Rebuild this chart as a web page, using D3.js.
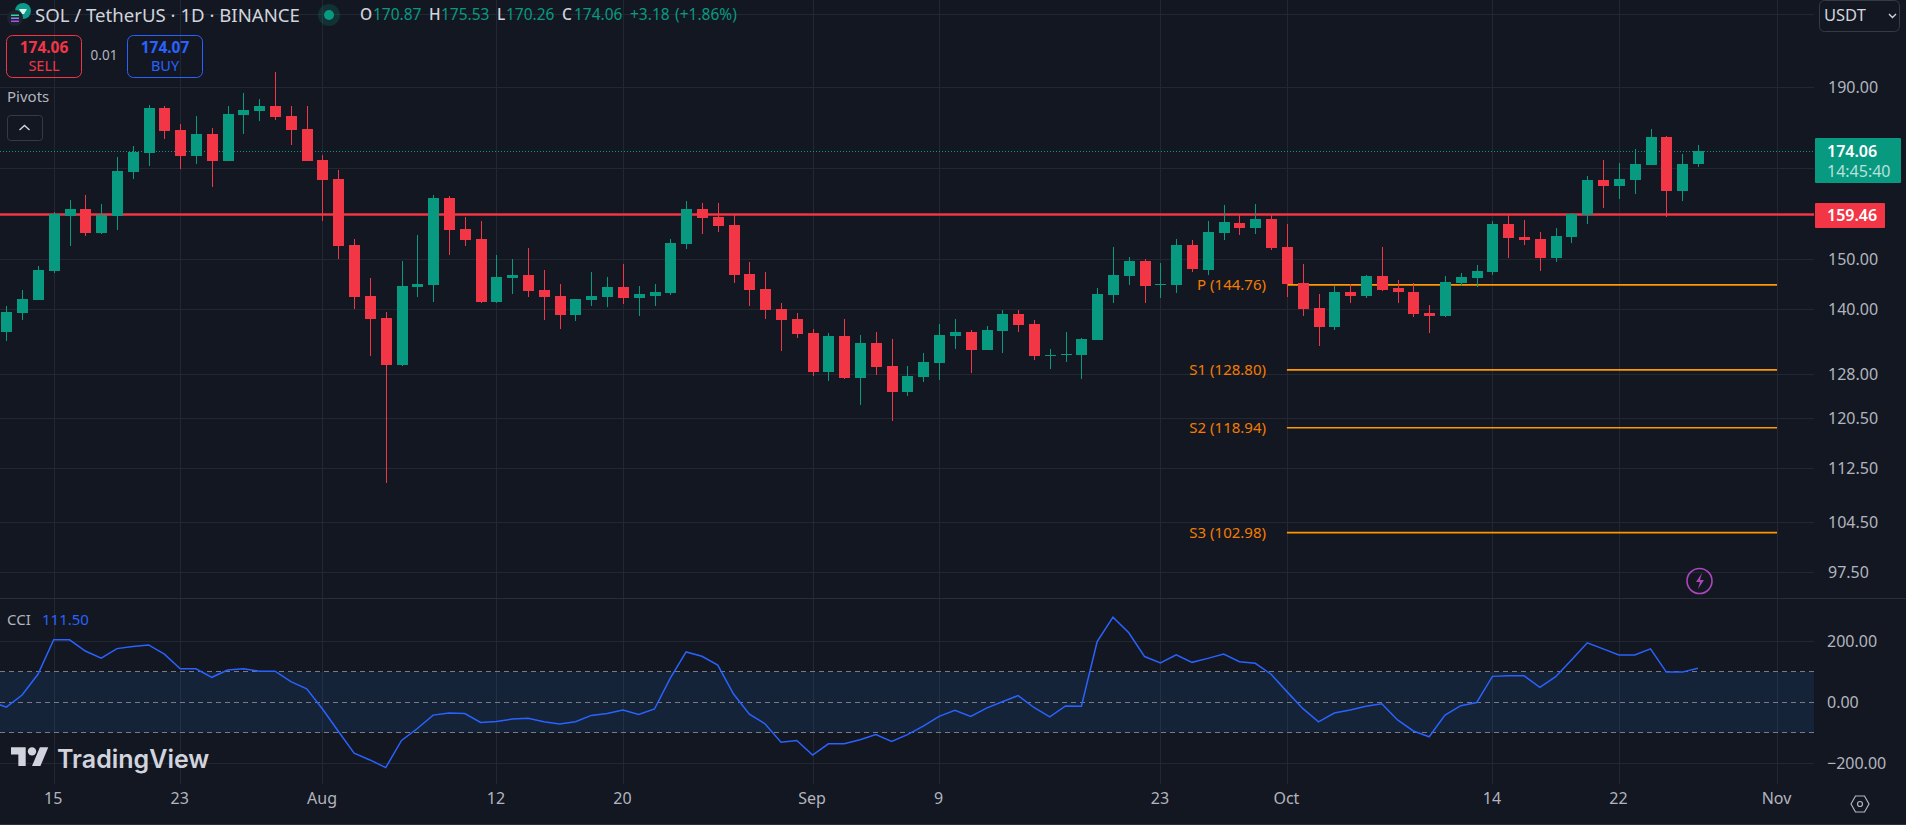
<html>

<head>

	<meta http-equiv="content-type" content="text/html" charset="utf-8" />

	<!-- d3 -->
	<script src="https://cdnjs.cloudflare.com/ajax/libs/d3/7.9.0/d3.min.js" charset="utf-8"></script>

	<style>
		html, body { margin: 0; padding: 0; background: #131722; overflow: hidden; }
		svg { display: block; }
		text { font-family: "Noto Sans", sans-serif; }
		.domain { display: none; }
	</style>

</head>

<body>

<div class="datavis"></div>

<script type="text/javascript">

	// candles, one per day from firstDay
	var firstDay = "2024-07-12";
	var opens = [135.7,139.2,141.8,147.6,159.2,160.7,155.5,159.2,169.0,173.5,184.6,179.1,172.8,178.1,171.7,182.8,183.8,185.1,182.6,179.4,
		171.9,167.4,152.9,142.5,138.3,129.7,144.3,144.7,163.1,156.3,154.2,141.4,146.2,146.8,143.7,142.5,138.8,141.8,142.4,144.3,
		142.2,142.5,143.1,153.2,160.7,159.0,157.2,147.0,143.9,140.0,138.1,135.5,128.4,135.0,127.4,133.7,129.5,125.0,127.5,130.0,
		135.0,135.7,132.4,135.9,139.0,137.2,131.3,131.5,131.5,134.2,142.7,146.6,149.6,144.8,144.8,152.9,147.8,155.5,157.7,156.5,
		158.5,152.5,145.2,140.2,136.6,143.3,142.5,146.6,144.1,143.3,139.2,138.7,145.2,146.2,147.4,157.4,154.6,154.2,150.2,154.6,
		159.4,167.3,165.9,167.3,170.7,177.4,164.6,170.87];
	var highs = [140.6,143.7,148.6,160.1,162.7,163.8,161.8,172.6,175.2,185.3,185.1,180.6,182.6,179.6,185.1,188.4,186.9,193.9,185.1,185.1,
		173.0,169.5,154.2,146.2,139.4,149.6,155.0,163.8,163.6,159.0,158.1,150.8,150.0,152.3,147.8,145.0,142.0,147.4,146.4,149.0,
		144.6,145.0,154.2,162.5,162.0,162.0,159.6,149.4,147.4,141.2,139.2,136.3,135.5,138.1,135.2,135.7,134.4,129.5,131.9,137.2,
		138.1,136.1,136.8,139.8,139.8,137.9,132.6,135.7,134.6,144.1,152.5,150.4,150.0,149.2,154.2,154.0,158.1,161.6,159.6,161.8,
		159.6,157.4,149.0,143.0,144.6,145.0,146.8,152.5,145.8,145.2,140.8,146.6,147.2,148.8,158.1,159.4,158.3,155.7,156.5,159.8,
		168.1,171.9,171.2,174.4,179.4,177.6,173.3,175.53];
	var lows = [134.0,137.9,141.8,147.2,152.7,154.8,155.3,156.1,167.4,170.5,176.9,169.7,170.9,165.6,171.7,178.1,181.3,181.6,175.4,171.7,
		158.1,150.0,140.0,131.3,110.2,129.5,142.4,141.4,150.8,152.7,141.2,141.2,143.0,142.4,137.9,136.3,137.7,140.6,140.4,141.0,
		138.7,140.6,142.7,152.1,155.3,155.7,145.2,140.6,138.1,132.2,134.6,127.7,126.8,127.2,122.8,127.9,120.0,124.3,126.7,127.0,
		132.6,128.3,132.4,131.9,135.7,130.6,129.0,130.2,127.2,134.2,141.2,144.8,141.2,142.2,143.1,147.4,146.8,154.0,155.0,155.3,
		151.9,142.4,138.7,133.1,136.1,141.2,142.2,143.5,141.2,138.5,135.4,138.5,144.6,144.3,146.8,150.2,152.9,147.6,149.4,153.4,
		157.4,160.9,162.9,164.1,170.7,159.0,162.4,170.26];
	var closes = [139.4,142.0,147.8,159.6,160.7,155.5,159.4,169.3,173.7,184.6,178.9,172.8,178.1,171.7,183.1,184.1,185.1,182.3,179.1,171.7,
		167.2,152.7,142.4,138.1,129.7,144.6,145.0,163.1,156.1,154.0,141.4,146.4,146.8,143.5,142.4,138.8,142.0,142.5,144.3,142.2,
		143.0,143.3,153.4,160.7,158.7,157.0,146.8,143.7,139.8,137.9,135.3,128.4,135.0,127.4,133.7,129.3,125.0,127.7,130.2,135.2,
		135.7,132.4,136.1,139.0,137.0,131.3,131.5,131.7,134.4,143.0,146.8,149.6,144.6,145.0,152.9,148.0,155.7,157.9,156.5,158.5,
		152.3,145.0,140.0,136.6,143.3,142.5,146.6,143.7,143.3,139.0,138.7,145.4,146.4,147.6,157.4,154.4,154.0,150.2,154.8,159.6,
		167.3,165.9,167.5,170.9,177.4,164.6,170.9,174.06];

	// cci starts one day before the candles, that point sits off the left edge
	var cciValues = [3,-16,24,92,205,205,168,145,176,183,188,158,110,110,82,106,110,102,102,68,44,
		-22,-95,-167,-189,-214,-125,-86,-42,-35,-37,-66,-63,-55,-52,-64,-71,-64,-43,-37,-25,
		-40,-22,79,165,151,122,27,-39,-71,-131,-125,-173,-136,-136,-123,-106,-128,-106,-78,-46,
		-26,-46,-19,2,22,-17,-48,-12,-13,199,279,228,150,129,156,131,144,158,133,128,
		92,35,-20,-64,-35,-25,-13,-5,-58,-94,-113,-42,-11,-1,85,87,87,49,84,139,
		195,175,155,155,175,99,99,111.5];

	// 210 and 170 only have grid lines, their labels sit under the box and the tag
	var priceTicks = [210,190,170,150,140,128,120.5,112.5,104.5,97.5];
	var priceLabels = [190,150,140,128,120.5,112.5,104.5,97.5];
	var cciTicks = [200,0,-200];
	var cciBands = [100,0,-100];
	var tickDays = ["2024-07-15","2024-07-23","2024-08-01","2024-08-12","2024-08-20","2024-09-01","2024-09-09","2024-09-23","2024-10-01","2024-10-14","2024-10-22","2024-11-01"];
	var tickLabels = ["15","23","Aug","12","20","Sep","9","23","Oct","14","22","Nov"];

	var pivotNames = ["P","S1","S2","S3"];
	var pivotValues = [144.76,128.80,118.94,102.98];
	var pivotFrom = "2024-10-01";
	var pivotTo = "2024-11-01";

	var lastPrice = 174.06;
	var levelPrice = 159.46;

	var upColor = "#089981";
	var downColor = "#f23645";
	var gridColor = "#232732";
	var textColor = "#b2b5be";
	var orange = "#ff9800";
	var blue = "#2962ff";

	var W = 1906, H = 825;
	var paneRight = 1814;
	var paneSplit = 598;
	var gridBottom = 784;

	var parseDay = d3.utcParse("%Y-%m-%d");

	var x = d3.scaleUtc()
		.domain([parseDay(firstDay), parseDay("2024-11-01")])
		.range([6.3, 1777]);
	var y = d3.scaleLog()
		.domain([97.5, 210])
		.range([572.4, 14.2]);
	var yc = d3.scaleLinear()
		.domain([-200, 200])
		.range([763.3, 641.3]);

	function dayX(i){
		return Math.round(x(d3.utcDay.offset(parseDay(firstDay), i)));
	}

	var svg = d3.select(".datavis")
		.append("svg")
		.attr("width", W)
		.attr("height", H);

	svg.append("rect").attr("width", W).attr("height", H).attr("fill", "#131722");

	// vertical grid, runs through both panes
	var tickDates = tickDays.map(parseDay);
	var xGrid = svg.append("g")
		.attr("transform", "translate(0," + gridBottom + ")")
		.call(d3.axisBottom(x).tickValues(tickDates).tickSize(-gridBottom).tickFormat(""));
	xGrid.selectAll("line").attr("stroke", gridColor).attr("shape-rendering", "crispEdges");

	// horizontal grid + price labels
	var yAxis = svg.append("g")
		.attr("transform", "translate(" + paneRight + ",0)")
		.call(d3.axisLeft(y).tickValues(priceTicks).tickSize(paneRight).tickFormat(""));
	yAxis.selectAll("line").attr("stroke", gridColor).attr("shape-rendering", "crispEdges");

	var yLabels = svg.append("g")
		.attr("transform", "translate(" + paneRight + ",0)")
		.call(d3.axisRight(y).tickValues(priceLabels).tickSize(0).tickPadding(14).tickFormat(d3.format(".2f")));
	yLabels.selectAll("text").attr("fill", textColor).attr("font-size", 16).style("font-family", "'Noto Sans'");

	// pane separators
	svg.append("rect").attr("x", 0).attr("y", paneSplit).attr("width", W).attr("height", 1).attr("fill", "#2a2e39");
	svg.append("rect").attr("x", 0).attr("y", 824).attr("width", W).attr("height", 1).attr("fill", "#2a2e39");

	// last price dotted line and the level
	svg.append("line")
		.attr("x1", 0).attr("x2", paneRight)
		.attr("y1", Math.round(y(lastPrice)) + 0.5).attr("y2", Math.round(y(lastPrice)) + 0.5)
		.attr("stroke", upColor).attr("stroke-dasharray", "1,2");
	svg.append("line")
		.attr("x1", 0).attr("x2", paneRight)
		.attr("y1", y(levelPrice)).attr("y2", y(levelPrice))
		.attr("stroke", downColor).attr("stroke-width", 2.5);

	// pivots
	var pv = svg.append("g").selectAll("g").data(pivotValues).enter().append("g");
	pv.append("line")
		.attr("x1", x(parseDay(pivotFrom))).attr("x2", x(parseDay(pivotTo)))
		.attr("y1", function(d){ return y(d); }).attr("y2", function(d){ return y(d); })
		.attr("stroke", orange).attr("stroke-width", 1.6);
	pv.append("text")
		.attr("x", 1266).attr("y", function(d){ return y(d); })
		.attr("dy", "0.35em").attr("text-anchor", "end")
		.attr("fill", "#f57c00").attr("font-size", 15)
		.text(function(d, i){ return pivotNames[i] + " (" + d.toFixed(2) + ")"; });

	// candles
	var idx = d3.range(opens.length);
	function candleColor(i){ return closes[i] >= opens[i] ? upColor : downColor; }

	var candles = svg.append("g").attr("shape-rendering", "crispEdges");
	candles.selectAll(".wick").data(idx).enter().append("rect")
		.attr("class", "wick")
		.attr("x", dayX)
		.attr("width", 1)
		.attr("y", function(i){ return y(highs[i]); })
		.attr("height", function(i){ return y(lows[i]) - y(highs[i]); })
		.attr("fill", candleColor);
	candles.selectAll(".body").data(idx).enter().append("rect")
		.attr("class", "body")
		.attr("x", function(i){ return dayX(i) - 5; })
		.attr("width", 11)
		.attr("y", function(i){ return y(Math.max(opens[i], closes[i])); })
		.attr("height", function(i){ return Math.max(Math.abs(y(opens[i]) - y(closes[i])), 1); })
		.attr("fill", candleColor);

	// cci pane
	svg.append("rect")
		.attr("x", 0).attr("width", paneRight)
		.attr("y", yc(100)).attr("height", yc(-100) - yc(100))
		.attr("fill", "#2196f3").attr("fill-opacity", 0.1);

	var ycGrid = svg.append("g")
		.attr("transform", "translate(" + paneRight + ",0)")
		.call(d3.axisLeft(yc).tickValues(cciTicks).tickSize(paneRight).tickFormat(""));
	ycGrid.selectAll("line").attr("stroke", gridColor).attr("shape-rendering", "crispEdges");
	ycGrid.selectAll(".tick").filter(function(d){ return d === 0; }).remove();

	svg.append("g").selectAll("line").data(cciBands).enter().append("line")
		.attr("x1", 0).attr("x2", paneRight)
		.attr("y1", function(d){ return yc(d); }).attr("y2", function(d){ return yc(d); })
		.attr("stroke", "#787b86").attr("stroke-dasharray", "5,4")
		.attr("shape-rendering", "crispEdges");

	var cciLine = d3.line()
		.x(function(d, i){ return x(d3.utcDay.offset(parseDay(firstDay), i - 1)); })
		.y(function(d){ return yc(d); });
	svg.append("path")
		.attr("d", cciLine(cciValues))
		.attr("fill", "none")
		.attr("stroke", blue)
		.attr("stroke-width", 1.5);

	var ycLabels = svg.append("g")
		.attr("transform", "translate(" + paneRight + ",0)")
		.call(d3.axisRight(yc).tickValues(cciTicks).tickSize(0).tickPadding(13).tickFormat(d3.format(".2f")));
	ycLabels.selectAll("text").attr("fill", textColor).attr("font-size", 16).style("font-family", "'Noto Sans'");

	// time labels
	var xLabels = svg.append("g")
		.attr("transform", "translate(-1,793)")
		.call(d3.axisBottom(x).tickValues(tickDates).tickSize(0).tickPadding(0)
			.tickFormat(function(d, i){ return tickLabels[i]; }));
	xLabels.selectAll("text").attr("fill", textColor).attr("font-size", 16).style("font-family", "'Noto Sans'");

	function label(t, px, py, size, color, weight, anchor){
		return svg.append("text")
			.attr("x", px).attr("y", py).attr("dy", "0.35em")
			.attr("font-size", size).attr("fill", color)
			.attr("font-weight", weight || 400)
			.attr("text-anchor", anchor || "start")
			.text(t);
	}

	// price tags
	svg.append("rect").attr("x", 1815).attr("y", 138).attr("width", 86).attr("height", 45).attr("rx", 1).attr("fill", upColor);
	label(lastPrice.toFixed(2), 1827, 151, 16, "#ffffff", 600);
	label("14:45:40", 1827, 171, 16, "#ffffff").attr("fill-opacity", 0.72);
	svg.append("rect").attr("x", 1815).attr("y", 203).attr("width", 70).attr("height", 25).attr("rx", 1).attr("fill", downColor);
	label(levelPrice.toFixed(2), 1827, 215, 16, "#ffffff", 600);

	// currency box
	svg.append("rect").attr("x", 1819.5).attr("y", 0.5).attr("width", 80).attr("height", 31).attr("rx", 5)
		.attr("fill", "#131722").attr("stroke", "#363a45");
	label("USDT", 1824, 15, 16.5, "#d1d4dc");
	svg.append("path").attr("d", "M1889 14l3.5 3.5l3.5-3.5").attr("fill", "none").attr("stroke", "#d1d4dc").attr("stroke-width", 1.4);

	// header
	svg.append("circle").attr("cx", 23).attr("cy", 11).attr("r", 8).attr("fill", "#0c9a8a");
	svg.append("path").attr("d", "M19 9h8l-3 5h-2z").attr("fill", "#d8f3ef");
	svg.append("circle").attr("cx", 15).attr("cy", 18).attr("r", 8).attr("fill", "#1e222d");
	svg.append("rect").attr("x", 11).attr("y", 14.5).attr("width", 8).attr("height", 1.5).attr("fill", "#2bd9a5");
	svg.append("rect").attr("x", 11).attr("y", 17.5).attr("width", 8).attr("height", 1.5).attr("fill", "#7a8cf0");
	svg.append("rect").attr("x", 11).attr("y", 20.5).attr("width", 8).attr("height", 1.5).attr("fill", "#b04cf0");
	label("SOL / TetherUS · 1D · BINANCE", 35, 15, 18.6, "#d1d4dc");

	svg.append("circle").attr("cx", 329).attr("cy", 15).attr("r", 11).attr("fill", upColor).attr("fill-opacity", 0.2);
	svg.append("circle").attr("cx", 329).attr("cy", 15).attr("r", 5).attr("fill", upColor);

	label("O", 360, 15, 15.5, "#d1d4dc", 500);
	label("170.87", 373, 15, 15.5, upColor);
	label("H", 429, 15, 15.5, "#d1d4dc", 500);
	label("175.53", 441, 15, 15.5, upColor);
	label("L", 497, 15, 15.5, "#d1d4dc", 500);
	label("170.26", 506, 15, 15.5, upColor);
	label("C", 562, 15, 15.5, "#d1d4dc", 500);
	label("174.06", 574, 15, 15.5, upColor);
	label("+3.18", 630, 15, 15.5, upColor);
	label("(+1.86%)", 675, 15, 15.5, upColor);

	// sell / buy
	svg.append("rect").attr("x", 6.5).attr("y", 35.5).attr("width", 75).attr("height", 42).attr("rx", 6)
		.attr("fill", "none").attr("stroke", downColor);
	label("174.06", 44, 48, 15.5, downColor, 700, "middle");
	label("SELL", 44, 66, 14.5, downColor, 400, "middle");
	label("0.01", 104, 55, 13.5, textColor, 400, "middle");
	svg.append("rect").attr("x", 127.5).attr("y", 35.5).attr("width", 75).attr("height", 42).attr("rx", 6)
		.attr("fill", "none").attr("stroke", blue);
	label("174.07", 165, 48, 15.5, blue, 700, "middle");
	label("BUY", 165, 66, 14.5, blue, 400, "middle");

	label("Pivots", 7, 97, 15, textColor);
	svg.append("rect").attr("x", 7.5).attr("y", 115.5).attr("width", 35).attr("height", 25).attr("rx", 3)
		.attr("fill", "none").attr("stroke", "#363a45");
	svg.append("path").attr("d", "M19.5 130l5-4.5l5 4.5").attr("fill", "none").attr("stroke", "#d1d4dc").attr("stroke-width", 1.4);

	// cci legend
	label("CCI", 7, 620, 15, textColor);
	label(cciValues[cciValues.length - 1].toFixed(2), 42, 620, 15, blue);

	// lightning badge
	svg.append("circle").attr("cx", 1699.5).attr("cy", 581).attr("r", 12.5).attr("fill", "none").attr("stroke", "#ab47bc").attr("stroke-width", 1.6);
	svg.append("path").attr("d", "M1702 573l-6 9h4l-2 7l6-9h-4z").attr("fill", "#ab47bc");

	// watermark
	var logo = svg.append("g").attr("transform", "translate(11,743) scale(1.05)").attr("fill", "#d1d4dc");
	logo.append("path").attr("d", "M14 22H7V11H0V4h14v18zM28 22h-8l7.5-18h8L28 22z");
	logo.append("circle").attr("cx", 20).attr("cy", 8).attr("r", 4);
	label("TradingView", 57, 759, 25, "#d1d4dc", 600).style("font-family", "Inter");

	// settings icon
	svg.append("path").attr("d", "M1851 804l4.5-8h9l4.5 8l-4.5 8h-9z").attr("fill", "none").attr("stroke", textColor).attr("stroke-width", 1.2);
	svg.append("circle").attr("cx", 1860).attr("cy", 804).attr("r", 2.5).attr("fill", "none").attr("stroke", textColor).attr("stroke-width", 1.2);

</script>

</body>

</html>
